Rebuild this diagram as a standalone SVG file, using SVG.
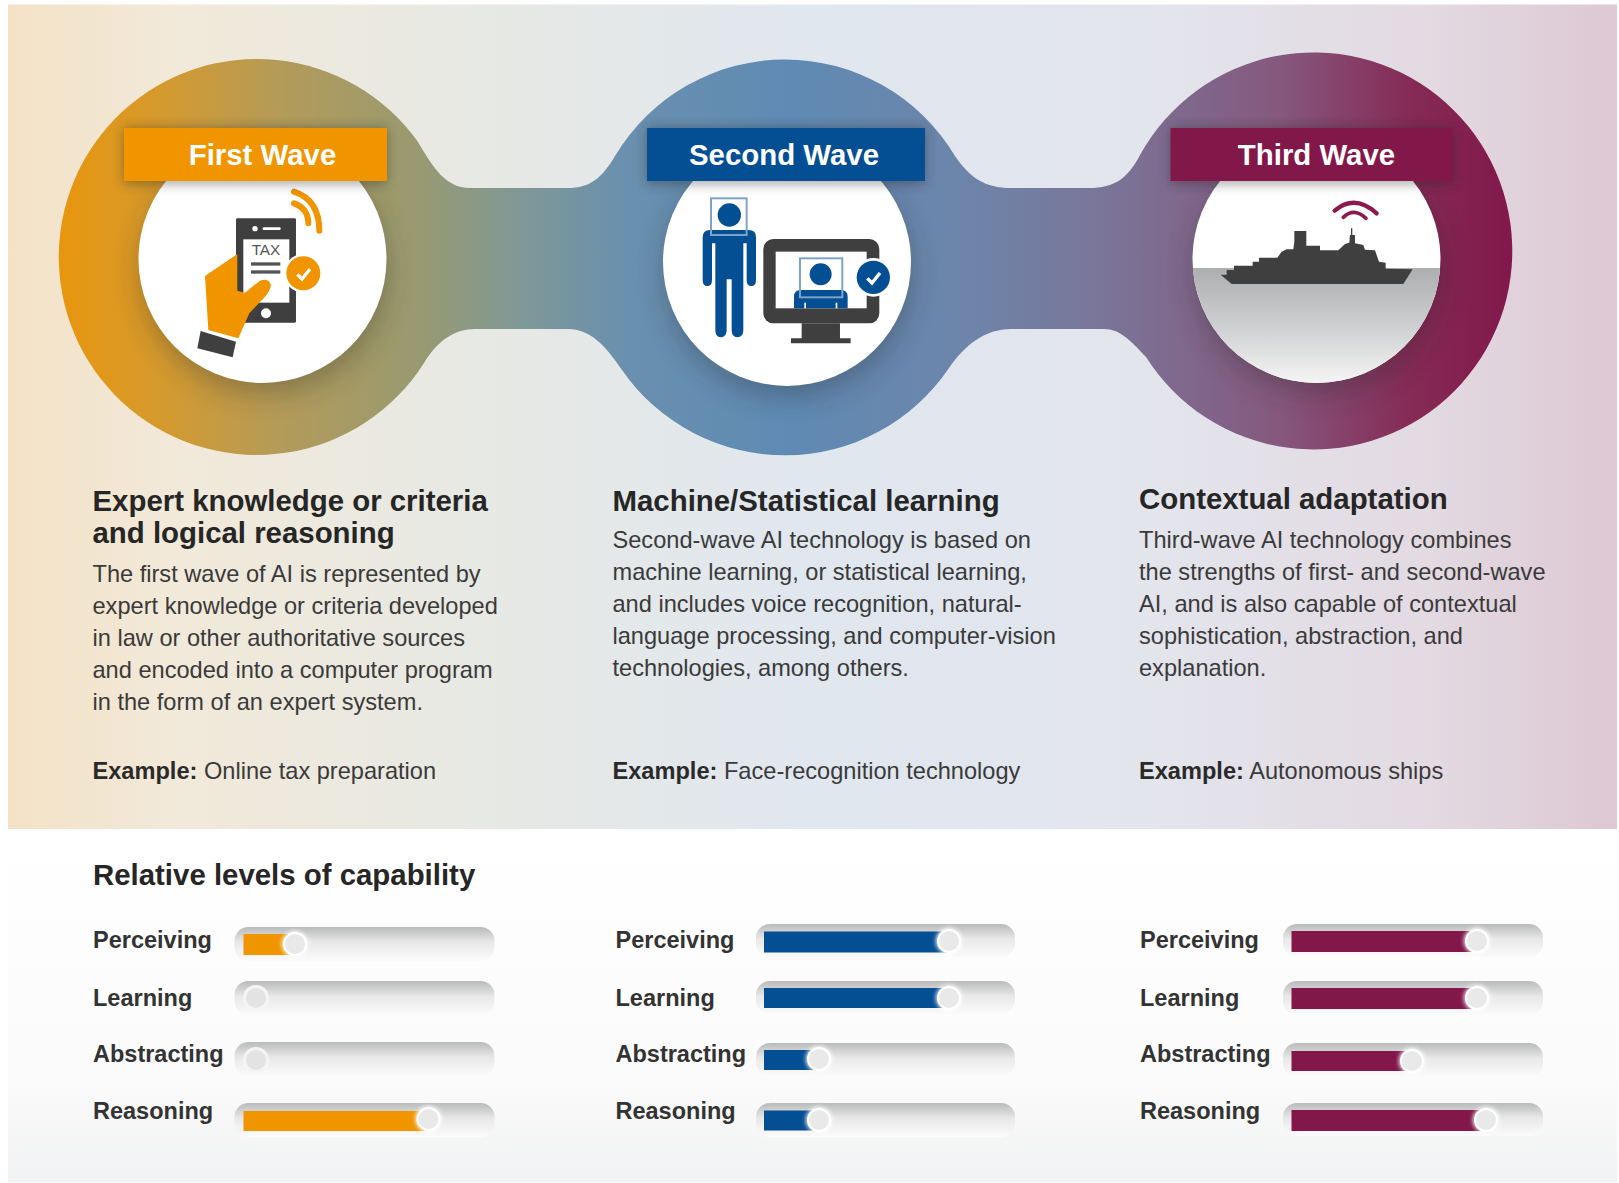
<svg xmlns="http://www.w3.org/2000/svg" width="1619" height="1183" viewBox="0 0 1619 1183">
<defs>
<linearGradient id="bg" x1="0" x2="1" y1="0" y2="0"><stop offset="0" stop-color="#f3e2c6"/><stop offset=".1" stop-color="#f2e9d9"/><stop offset=".27" stop-color="#e8e9e3"/><stop offset=".5" stop-color="#e0e7ef"/><stop offset=".7" stop-color="#e3e5ed"/><stop offset=".88" stop-color="#e3dae2"/><stop offset="1" stop-color="#ddc8d3"/></linearGradient>
<linearGradient id="panel" x1="0" x2="0" y1="0" y2="1"><stop offset="0" stop-color="#ffffff"/><stop offset=".7" stop-color="#fbfbfb"/><stop offset="1" stop-color="#f1f2f3"/></linearGradient>
<linearGradient id="band" gradientUnits="userSpaceOnUse" x1="59" x2="1512" y1="0" y2="0"><stop offset="0" stop-color="#e8960e"/><stop offset=".07" stop-color="#d59a2e"/><stop offset=".15" stop-color="#b49b58"/><stop offset=".25" stop-color="#979a72"/><stop offset=".32" stop-color="#7f9898"/><stop offset=".39" stop-color="#6a90ae"/><stop offset=".5" stop-color="#5f8ab4"/><stop offset=".62" stop-color="#6d85aa"/><stop offset=".72" stop-color="#7a7598"/><stop offset=".84" stop-color="#86587e"/><stop offset=".93" stop-color="#852b56"/><stop offset="1" stop-color="#82184b"/></linearGradient>
<linearGradient id="track" x1="0" x2="0" y1="0" y2="1"><stop offset="0" stop-color="#b9baba"/><stop offset=".45" stop-color="#e8e8e8"/><stop offset="1" stop-color="#fbfbfb"/></linearGradient>
<linearGradient id="sea" x1="0" x2="0" y1="0" y2="1"><stop offset="0" stop-color="#adaeb0"/><stop offset=".5" stop-color="#cfd0d1"/><stop offset="1" stop-color="#f8f8f8"/></linearGradient>
<filter id="soft" x="-30%" y="-30%" width="160%" height="160%"><feGaussianBlur stdDeviation="14"/></filter>
<filter id="bsh" x="-10%" y="-40%" width="120%" height="180%"><feGaussianBlur stdDeviation="6"/></filter>
<filter id="ksh" x="-50%" y="-50%" width="200%" height="200%"><feGaussianBlur stdDeviation="2"/></filter>
<clipPath id="c3"><circle cx="1316.5" cy="259" r="124"/></clipPath>
<g id="knob"><circle r="13" fill="#ffffff" filter="url(#ksh)" opacity=".95"/><circle r="12" fill="#ffffff"/><circle r="10" fill="#e9e9e9"/></g>
<g id="knob0"><circle r="13" fill="#f4f4f4"/><circle r="10" fill="#e3e3e3"/></g>
</defs>
<style>
text{font-family:"Liberation Sans",Arial,sans-serif}
.b{font-weight:700;fill:#fff;font-size:29.4px;text-anchor:middle}
.h{font-weight:700;fill:#262626;font-size:29.4px}
.t{fill:#3a3a3a;font-size:23.6px}
.e{fill:#3a3a3a;font-size:23.6px}
.e tspan{font-weight:700;fill:#2a2a2a}
.l{font-weight:700;fill:#333;font-size:23.5px}
.tr{fill:url(#track)}
.o{fill:#f09400}.n{fill:#044e94}.m{fill:#82174a}
.dk{fill:#3f3f3f}
.sh{fill:#222;opacity:.3;filter:url(#soft)}
.bs{fill:#222;opacity:.4;filter:url(#bsh)}
</style>
<rect width="1619" height="1183" fill="#ffffff"/>
<rect x="8" y="4.5" width="1609" height="825" fill="url(#bg)"/>
<rect x="8" y="829" width="1609" height="353" fill="url(#panel)"/>
<g id="connectors">
<path fill="url(#band)" d="M418 142C433 167 445 188 470 188L568 188C590 188 602 178 615 156A198 198 0 0 1 955 156C970 178 985 188 1011 188L1089 188C1115 188 1128 178 1140 155A198.500 198.500 0 1 1 1146 357C1130 340 1120 329 1104 329L1011 329C985 329 965 345 949 368A198 198 0 0 1 622 370C605 345 590 329 568 329L475 329C455 329 438 340 424 363A198 198 0 1 1 418 142Z"/>
</g>
<g id="wave1">
<circle class="sh" cx="264" cy="270" r="124"/>
<circle cx="262.500" cy="259" r="124" fill="#fff"/>
<g transform="translate(170 170) scale(.3333)">
<rect class="dk" x="198" y="145" width="180" height="313" rx="4"/>
<rect x="220" y="208" width="138" height="190" fill="#fff"/>
<circle cx="255" cy="176" r="8" fill="#fff"/><rect x="278" y="172" width="54" height="8" rx="3" fill="#fff"/>
<circle cx="288" cy="430" r="15" fill="#fff"/>
<text x="288" y="255" font-size="46" fill="#555" text-anchor="middle">TAX</text>
<rect x="243" y="277" width="88" height="10" fill="#555"/><rect x="243" y="301" width="88" height="10" fill="#555"/>
<path class="o" d="M105 318L202 252V362L225 368L270 332Q295 322 303 345Q300 365 285 380L238 430L205 505L115 480Z"/>
<path class="dk" d="M92 483L198 515L188 562L82 535Z"/>
<circle cx="400" cy="310" r="58" fill="#fff"/><circle class="o" cx="400" cy="310" r="51"/>
<path d="M382 313L396 327L420 297" fill="none" stroke="#fff" stroke-width="10"/>
<path d="M372 65Q448 90 448 182" fill="none" stroke="#f09400" stroke-width="18" stroke-linecap="round"/>
<path d="M372 100Q415 115 415 160" fill="none" stroke="#f09400" stroke-width="18" stroke-linecap="round"/>
</g>
<rect class="bs" x="124" y="128" width="263" height="56"/>
<rect class="o" x="124" y="128" width="263" height="53"/>
<text class="b" x="262.500" y="165">First Wave</text>
<text class="h" x="92.500" y="511">Expert knowledge or criteria</text>
<text class="h" x="92.500" y="543">and logical reasoning</text>
<text class="t" x="92.500" y="581.500">The first wave of AI is represented by</text>
<text class="t" x="92.500" y="613.500">expert knowledge or criteria developed</text>
<text class="t" x="92.500" y="645.500">in law or other authoritative sources</text>
<text class="t" x="92.500" y="677.500">and encoded into a computer program</text>
<text class="t" x="92.500" y="709.500">in the form of an expert system.</text>
<text class="e" x="92.500" y="778.500"><tspan>Example:</tspan> Online tax preparation</text>
</g>
<g id="wave2">
<circle class="sh" cx="788" cy="273" r="124"/>
<circle cx="787" cy="262" r="124" fill="#fff"/>
<g transform="translate(680 180) scale(.3333)">
<circle class="n" cx="148" cy="105" r="35"/>
<path class="n" d="M90 150H206Q228 150 228 172V300Q228 318 214 318Q200 318 200 300V190H190V450Q190 472 172 472Q155 472 155 450V298H140V450Q140 472 122 472Q106 472 106 450V190H96V300Q96 318 82 318Q68 318 68 300V172Q68 150 90 150Z"/>
<rect x="93" y="55" width="107" height="110" fill="none" stroke="#7fa3c8" stroke-width="6"/>
<rect class="dk" x="250" y="177" width="348" height="253" rx="30"/>
<rect x="287" y="215" width="273" height="170" fill="#fff"/>
<path class="dk" d="M365 430H480V475H512V490H333V475H365Z"/>
<circle class="n" cx="422" cy="283" r="33"/>
<path class="n" d="M342 385V350Q342 330 362 330H483Q503 330 503 350V385Z"/>
<rect x="360" y="235" width="127" height="117" fill="none" stroke="#7fa3c8" stroke-width="6"/>
<rect x="373" y="368" width="5" height="17" fill="#fff"/><rect x="467" y="368" width="5" height="17" fill="#fff"/>
<circle cx="580" cy="292" r="58" fill="#fff"/><circle class="n" cx="580" cy="292" r="50"/>
<path d="M562 295L576 309L600 279" fill="none" stroke="#fff" stroke-width="10"/>
</g>
<rect class="bs" x="647" y="128" width="278" height="56"/>
<rect class="n" x="647" y="128" width="278" height="53"/>
<text class="b" x="784" y="165">Second Wave</text>
<text class="h" x="612.500" y="511">Machine/Statistical learning</text>
<text class="t" x="612.500" y="547.500">Second-wave AI technology is based on</text>
<text class="t" x="612.500" y="579.500">machine learning, or statistical learning,</text>
<text class="t" x="612.500" y="611.500">and includes voice recognition, natural-</text>
<text class="t" x="612.500" y="644">language processing, and computer-vision</text>
<text class="t" x="612.500" y="676">technologies, among others.</text>
<text class="e" x="612.500" y="778.500"><tspan>Example:</tspan> Face-recognition technology</text>
</g>
<g id="wave3">
<circle class="sh" cx="1318" cy="270" r="124"/>
<circle cx="1316.500" cy="259" r="124" fill="#fff"/>
<rect x="1190" y="268" width="255" height="120" fill="url(#sea)" clip-path="url(#c3)"/>
<g transform="translate(1190 180) scale(.3333)">
<path class="dk" d="M92 284H110V270H132V257H188V245H207V233H262L275 215L290 208H310L313 185V153H349V197H390V211H445L465 192L478 188L480 165H483V145H487V165H495V190L520 195L525 209L555 211L567 245L587 248V266L668 268L640 312H125Z"/>
<path d="M434 92Q495 41 560 100" fill="none" stroke="#8d1a4e" stroke-width="13" stroke-linecap="round"/>
<path d="M460 112Q492 81 528 115" fill="none" stroke="#8d1a4e" stroke-width="11" stroke-linecap="round"/>
</g>
<rect class="bs" x="1170.500" y="128" width="282.500" height="56"/>
<rect class="m" x="1170.500" y="128" width="282.500" height="53"/>
<text class="b" x="1316.500" y="165">Third Wave</text>
<text class="h" x="1139" y="508.500">Contextual adaptation</text>
<text class="t" x="1139" y="547.500">Third-wave AI technology combines</text>
<text class="t" x="1139" y="579.500">the strengths of first- and second-wave</text>
<text class="t" x="1139" y="611.500">AI, and is also capable of contextual</text>
<text class="t" x="1139" y="643.500">sophistication, abstraction, and</text>
<text class="t" x="1139" y="676">explanation.</text>
<text class="e" x="1139" y="778.500"><tspan>Example:</tspan> Autonomous ships</text>
</g>
<g id="capability">
<text class="h" x="93" y="885">Relative levels of capability</text>
<g id="levels1">
<text class="l" x="93" y="948">Perceiving</text><rect class="tr" x="234.500" y="927" width="260" height="34" rx="14"/><rect class="o" x="243.500" y="934" width="52" height="21"/><use href="#knob" x="295" y="944"/>
<text class="l" x="93" y="1005.500">Learning</text><rect class="tr" x="234.500" y="981" width="260" height="34" rx="14"/><use href="#knob0" x="256" y="998"/>
<text class="l" x="93" y="1062">Abstracting</text><rect class="tr" x="234.500" y="1042" width="260" height="34" rx="14"/><use href="#knob0" x="256" y="1060"/>
<text class="l" x="93" y="1119">Reasoning</text><rect class="tr" x="234.500" y="1103" width="260" height="34" rx="14"/><rect class="o" x="243.500" y="1111" width="185" height="20"/><use href="#knob" x="428.500" y="1119"/>
</g>
<g id="levels2">
<text class="l" x="615.500" y="948">Perceiving</text><rect class="tr" x="756" y="924" width="259" height="33" rx="14"/><rect class="n" x="764" y="931.500" width="185" height="21"/><use href="#knob" x="949" y="941"/>
<text class="l" x="615.500" y="1005.500">Learning</text><rect class="tr" x="756" y="981" width="259" height="33" rx="14"/><rect class="n" x="764" y="988" width="185" height="20"/><use href="#knob" x="949" y="998"/>
<text class="l" x="615.500" y="1062">Abstracting</text><rect class="tr" x="756" y="1043" width="259" height="33" rx="14"/><rect class="n" x="764" y="1050" width="55" height="20"/><use href="#knob" x="819" y="1059"/>
<text class="l" x="615.500" y="1118.500">Reasoning</text><rect class="tr" x="756" y="1103" width="259" height="34" rx="14"/><rect class="n" x="764" y="1110.500" width="55" height="20"/><use href="#knob" x="819" y="1120"/>
</g>
<g id="levels3">
<text class="l" x="1140" y="948">Perceiving</text><rect class="tr" x="1283" y="924" width="260" height="33" rx="14"/><rect class="m" x="1291.500" y="931" width="186" height="21"/><use href="#knob" x="1477" y="941"/>
<text class="l" x="1140" y="1005.500">Learning</text><rect class="tr" x="1283" y="981" width="260" height="34" rx="14"/><rect class="m" x="1291.500" y="988" width="186" height="21"/><use href="#knob" x="1477" y="998"/>
<text class="l" x="1140" y="1062">Abstracting</text><rect class="tr" x="1283" y="1043" width="260" height="34" rx="14"/><rect class="m" x="1291.500" y="1051" width="121" height="20"/><use href="#knob" x="1412" y="1061"/>
<text class="l" x="1140" y="1119">Reasoning</text><rect class="tr" x="1283" y="1103" width="260" height="33" rx="14"/><rect class="m" x="1291.500" y="1110" width="195" height="21"/><use href="#knob" x="1486" y="1120"/>
</g>
</g>
</svg>
